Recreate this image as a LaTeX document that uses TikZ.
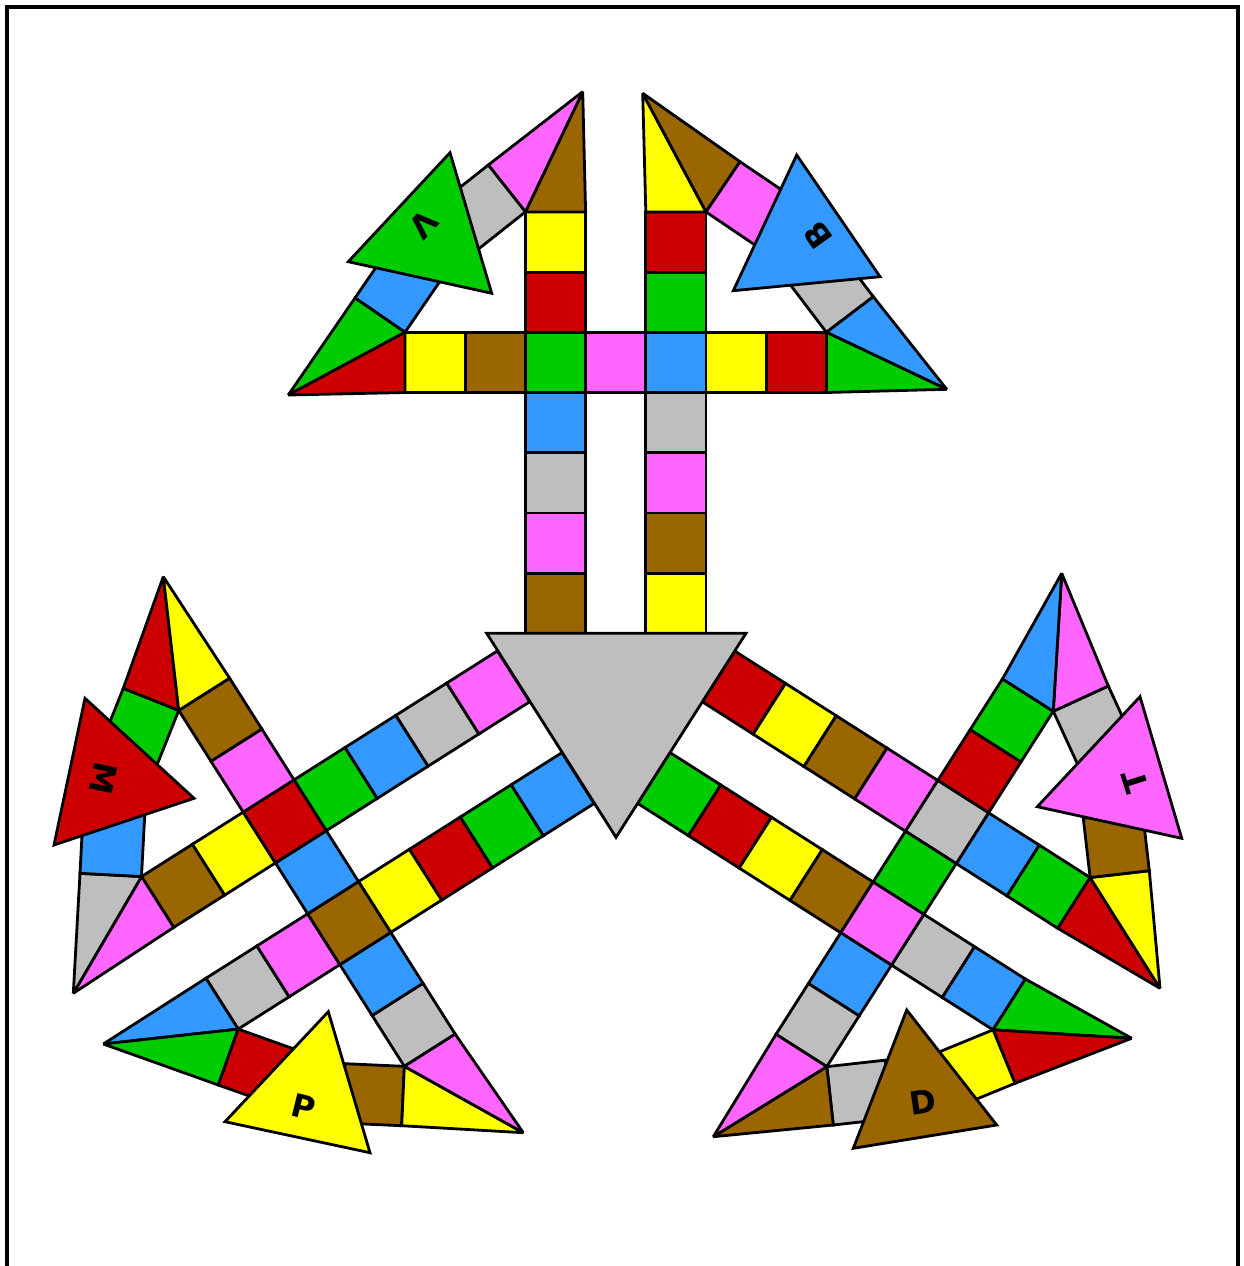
\documentclass[tikz,border=0pt]{standalone}
\usepackage{fontspec}
\setmainfont{DejaVu Sans}
\usetikzlibrary{calc}
\definecolor{cbrown}{HTML}{996600}
\definecolor{cmag}{HTML}{FF66FF}
\definecolor{cgrey}{HTML}{BEBEBE}
\definecolor{cblue}{HTML}{3399FF}
\definecolor{cred}{HTML}{CC0000}
\definecolor{cgreen}{HTML}{00CC00}
\definecolor{cyellow}{HTML}{FFFF00}
\tikzset{
  cell/.style={draw=black, line width=2.8pt, line join=miter, miter limit=4},
  lbl/.style={font=\fontsize{32}{32}\selectfont\bfseries, inner sep=0pt}
}
\newcommand{\sqr}[3]{\filldraw[cell,fill=#3] (#1,#2) -- ++(60.2,0) -- ++(0,60.2) -- ++(-60.2,0) -- cycle;}
\newcommand{\armcoords}[2]{%
  \coordinate (#1K) at (-90.3,421.4); \coordinate (#1Kp) at (-30.1,421.4);
  \coordinate (#1R) at (-210.7,301); \coordinate (#1Rp) at (-210.7,240.8);
  \coordinate (#2K) at (90.3,421.4); \coordinate (#2Kp) at (30.1,421.4);
  \coordinate (#2R) at (210.7,301); \coordinate (#2Rp) at (210.7,240.8);}
\newcommand{\armsq}[3]{%
  \foreach \v/\c in {#1} {\sqr{-90.3}{\v*60.2}{\c}}
  \foreach \v/\c in {#2} {\sqr{30.1}{\v*60.2}{\c}}
  \foreach \c [count=\i from 0] in {#3} {\sqr{-210.7+\i*60.2}{240.8}{\c}}}
\newcommand{\fan}[9]{%
  \coordinate (#1Q1) at ($(#1K)!1!#2:(#1A1)$);
  \coordinate (#1Q3) at ($(#1R)!1!#3:(#1A3)$);
  \filldraw[cell,fill=#4] (#1Kp) -- (#1K) -- (#1T1) -- cycle;
  \filldraw[cell,fill=#5] (#1K) -- (#1T1) -- (#1A1) -- cycle;
  \filldraw[cell,fill=#6] (#1K) -- (#1A1) -- ($(#1A1)+(#1Q1)-(#1K)$) -- (#1Q1) -- cycle;
  \filldraw[cell,fill=#7] (#1R) -- (#1A3) -- ($(#1A3)+(#1Q3)-(#1R)$) -- (#1Q3) -- cycle;
  \filldraw[cell,fill=#8] (#1R) -- (#1A3) -- (#1T2) -- cycle;
  \filldraw[cell,fill=#9] (#1R) -- (#1T2) -- (#1Rp) -- cycle;}
\begin{document}
\begin{tikzpicture}[x=1pt,y=-1pt]
\useasboundingbox (0,0) rectangle (1243,1266);
\clip (0,0) rectangle (1243,1266);
\fill[white] (0,0) rectangle (1243,1266);
\draw[line width=4pt] (7,7) rectangle (1238,1300);

% top arm
\begin{scope}[shift={(615.7pt,-633.3pt)}, x={(1pt,0pt)}, y={(0pt,1pt)}]
  \armsq{0/cbrown,1/cmag,2/cgrey,3/cblue,5/cred,6/cyellow}{0/cyellow,1/cbrown,2/cmag,3/cgrey,5/cgreen,6/cred}{cyellow,cbrown,cgreen,cmag,cblue,cyellow,cred}
  \armcoords{fV}{fB}
\end{scope}
% lower-left arm
\begin{scope}[shift={(545.8pt,-727.2pt)}, x={(-0.5354pt,0.8447pt)}, y={(-0.8447pt,-0.5354pt)}]
  \armsq{0/cblue,1/cgreen,2/cred,3/cyellow,5/cmag,6/cgrey}{0/cmag,1/cgrey,2/cblue,3/cgreen,5/cyellow,6/cbrown}{cgrey,cblue,cbrown,cblue,cred,cmag,cbrown}
  \armcoords{fP}{fM}
\end{scope}
% lower-right arm
\begin{scope}[shift={(686.2pt,-727.2pt)}, x={(-0.5374pt,-0.8433pt)}, y={(0.8433pt,-0.5374pt)}]
  \armsq{0/cred,1/cyellow,2/cbrown,3/cmag,5/cblue,6/cgreen}{0/cgreen,1/cred,2/cyellow,3/cbrown,5/cgrey,6/cblue}{cgreen,cred,cgrey,cgreen,cmag,cblue,cgrey}
  \armcoords{fT}{fD}
\end{scope}

% fan points
\coordinate (fVT1) at (582.7,91.7);  \coordinate (fVA1) at (488.3,165);  \coordinate (fVA3) at (355,298);    \coordinate (fVT2) at (288.3,395);
\coordinate (fBT1) at (642.7,93.3);  \coordinate (fBA1) at (740,161.7);  \coordinate (fBA3) at (873.3,296.7); \coordinate (fBT2) at (946.7,389.3);
\coordinate (fMT1) at (73.3,993.3);  \coordinate (fMA1) at (80,873.3);   \coordinate (fMA3) at (123.3,688.3); \coordinate (fMT2) at (163.3,576.7);
\coordinate (fPT1) at (103.3,1044);  \coordinate (fPA1) at (218.3,1085); \coordinate (fPA3) at (401.7,1125.7);\coordinate (fPT2) at (523.3,1132.7);
\coordinate (fDT1) at (1131.7,1038.3);\coordinate (fDA1) at (1015,1083.3);\coordinate (fDA3) at (833.3,1125); \coordinate (fDT2) at (713.3,1136.7);
\coordinate (fTT1) at (1160,988.3);  \coordinate (fTA1) at (1149.3,870.7);\coordinate (fTA3) at (1108.3,686); \coordinate (fTT2) at (1061.7,573.3);

\fan{fV}{90}{-90}{cbrown}{cmag}{cgrey}{cblue}{cgreen}{cred}
\fan{fB}{-90}{90}{cyellow}{cbrown}{cmag}{cgrey}{cblue}{cgreen}
\fan{fM}{-90}{90}{cmag}{cgrey}{cblue}{cgreen}{cred}{cyellow}
\fan{fP}{90}{-90}{cblue}{cgreen}{cred}{cbrown}{cyellow}{cmag}
\fan{fD}{-90}{90}{cgreen}{cred}{cyellow}{cgrey}{cbrown}{cmag}
\fan{fT}{90}{-90}{cred}{cyellow}{cbrown}{cgrey}{cmag}{cblue}

% home triangles
\filldraw[cell,fill=cgreen] (450,152.7) -- (348.3,261.7) -- (491.7,293.3) -- cycle;
\node[lbl,rotate=-132.9] (lV) at (423.3,225) {V};
\filldraw[cell,fill=cblue] (796.7,155) -- (880,276.7) -- (733.3,290.7) -- cycle;
\node[lbl,rotate=125.5] (lB) at (818.3,235) {B};
\filldraw[cell,fill=cred] (85,698.3) -- (194,798.3) -- (54,845) -- cycle;
\node[lbl,rotate=-102.2] (lM) at (103.3,778.3) {M};
\filldraw[cell,fill=cyellow] (225,1121.7) -- (328.3,1011.7) -- (370,1152.7) -- cycle;
\node[lbl,rotate=-13.8] (lP) at (303.3,1106.7) {P};
\filldraw[cell,fill=cbrown] (906.7,1010) -- (996.7,1125) -- (853.3,1148.3) -- cycle;
\node[lbl,rotate=8.3] (lD) at (923.3,1101.7) {D};
\filldraw[cell,fill=cmag] (1140,696.7) -- (1181.7,838.3) -- (1037.3,806.7) -- cycle;
\node[lbl,rotate=107.6] (lT) at (1135,781.7) {T};

% centre
\filldraw[cell,fill=cgrey] (486.7,633.3) -- (746,633.3) -- (616,837.3) -- cycle;
\end{tikzpicture}
\end{document}
